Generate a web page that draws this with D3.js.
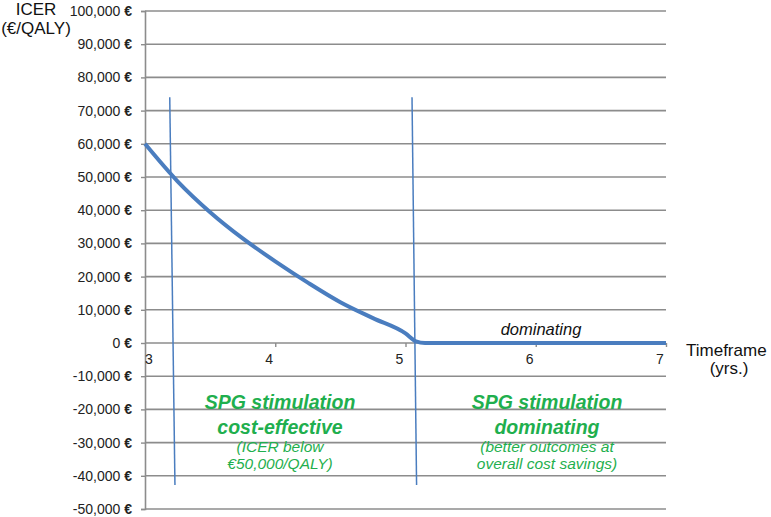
<!DOCTYPE html>
<html>
<head>
<meta charset="utf-8">
<style>
  body { margin: 0; background: #fff; }
  svg { display: block; font-family: "Liberation Sans", Arial, Helvetica, sans-serif; }
</style>
</head>
<body>
<div id="chart"></div>
<script src="https://cdn.jsdelivr.net/npm/d3@7"></script>
<script>
// ICER by timeframe (years)
var years  = [3, 3.25, 3.5, 3.75, 4, 4.25, 4.5, 4.75, 5, 5.08, 5.15, 6, 7];
var icer   = [60000, 48700, 39400, 31500, 24600, 18200, 12300, 7500, 2900, 500, 0, 0, 0];

var yTicks = [-50000, -40000, -30000, -20000, -10000, 0, 10000, 20000, 30000, 40000, 50000, 60000, 70000, 80000, 90000, 100000];
var xTicks = [3, 4, 5, 6, 7];

// hand-drawn divider lines: [x top, x bottom]
var dividers = [[3.19, 3.23], [5.05, 5.085]];
var dividerTop = 74000, dividerBottom = -42800;

var W = 771, H = 517;
var plotL = 145, plotR = 666, plotT = 11, plotB = 509;

var x = d3.scaleLinear().domain([3, 7]).range([plotL, plotR]);
var y = d3.scaleLinear().domain([-50000, 100000]).range([plotB, plotT]);

var grey = "#8c8c8c", blue = "#4a7dbf", green = "#1faf4e";
var fmt = d3.formatLocale({ decimal: ".", thousands: ",", grouping: [3], currency: ["", ""], minus: "-" }).format(",");

var svg = d3.select("#chart").append("svg")
    .attr("width", W).attr("height", H);

// gridlines
svg.append("g").selectAll("line")
    .data(yTicks).enter().append("line")
    .attr("x1", plotL).attr("x2", plotR)
    .attr("y1", function(d) { return y(d); })
    .attr("y2", function(d) { return y(d); })
    .attr("stroke", grey).attr("stroke-width", 1.6);

// y axis
var yAxis = d3.axisLeft(y).tickValues(yTicks).tickSize(4).tickPadding(9)
    .tickFormat(fmt);
var gy = svg.append("g").attr("transform", "translate(" + plotL + ",0)").call(yAxis);
gy.attr("font-size", 14).attr("font-family", "Liberation Sans, Arial, sans-serif");
gy.select(".domain").attr("stroke", grey).attr("stroke-width", 1.6);
gy.selectAll(".tick line").attr("stroke", grey).attr("stroke-width", 1.4);
gy.selectAll(".tick text")
    .attr("fill", "#222")
    .each(function() {
      d3.select(this).append("tspan").attr("font-weight", "bold").text(" \u20ac");
    });

// x axis along zero line
var xAxis = d3.axisBottom(x).tickValues(xTicks.slice(1)).tickSize(4).tickFormat("");
var gx = svg.append("g").attr("transform", "translate(0," + y(0) + ")").call(xAxis);
gx.select(".domain").remove();
gx.selectAll(".tick line").attr("stroke", grey).attr("stroke-width", 1.4);

svg.append("g").selectAll("text")
    .data(xTicks).enter().append("text")
    .attr("x", function(d, i) { return i === 0 ? x(d) + 4 : x(d) - 6; })
    .attr("y", y(0) + 21)
    .attr("text-anchor", "middle")
    .attr("font-size", 14).attr("fill", "#222")
    .text(function(d) { return d; });

// curve
var line = d3.line()
    .x(function(d, i) { return x(years[i]); })
    .y(function(d) { return y(d); })
    .curve(d3.curveMonotoneX);

svg.append("path")
    .datum(icer)
    .attr("d", line)
    .attr("fill", "none")
    .attr("stroke", blue)
    .attr("stroke-width", 4)
    .attr("stroke-linejoin", "round");

// divider lines
svg.append("g").selectAll("line")
    .data(dividers).enter().append("line")
    .attr("x1", function(d) { return x(d[0]); })
    .attr("x2", function(d) { return x(d[1]); })
    .attr("y1", y(dividerTop))
    .attr("y2", y(dividerBottom))
    .attr("stroke", blue).attr("stroke-width", 1.5);

// axis titles
svg.append("text").attr("x", 36).attr("y", 15).attr("text-anchor", "middle")
    .attr("font-size", 17).attr("fill", "#111").text("ICER");
svg.append("text").attr("x", 36).attr("y", 34).attr("text-anchor", "middle")
    .attr("font-size", 17).attr("fill", "#111").text("(\u20ac/QALY)");
svg.append("text").attr("x", 686).attr("y", 356)
    .attr("font-size", 17).attr("fill", "#111").text("Timeframe");
svg.append("text").attr("x", 729).attr("y", 374).attr("text-anchor", "middle")
    .attr("font-size", 17).attr("fill", "#111").text("(yrs.)");

// "dominating" label on the flat line
svg.append("text").attr("x", 541).attr("y", 335).attr("text-anchor", "middle")
    .attr("font-size", 16.5).attr("font-style", "italic").attr("fill", "#111")
    .text("dominating");

// region annotations
var regions = [
  { cx: 280, main: ["SPG stimulation", "cost-effective"], sub: ["(ICER below", "\u20ac50,000/QALY)"] },
  { cx: 547, main: ["SPG stimulation", "dominating"], sub: ["(better outcomes at", "overall cost savings)"] }
];

regions.forEach(function(r) {
  var g = svg.append("g").attr("fill", green).attr("text-anchor", "middle").attr("font-style", "italic");
  g.selectAll(".m").data(r.main).enter().append("text")
      .attr("x", r.cx)
      .attr("y", function(d, i) { return 409 + i * 25; })
      .attr("font-size", 19.5).attr("font-weight", "bold")
      .text(function(d) { return d; });
  g.selectAll(".s").data(r.sub).enter().append("text")
      .attr("x", r.cx)
      .attr("y", function(d, i) { return 452 + i * 17; })
      .attr("font-size", 15.5)
      .text(function(d) { return d; });
});
</script>
</body>
</html>
